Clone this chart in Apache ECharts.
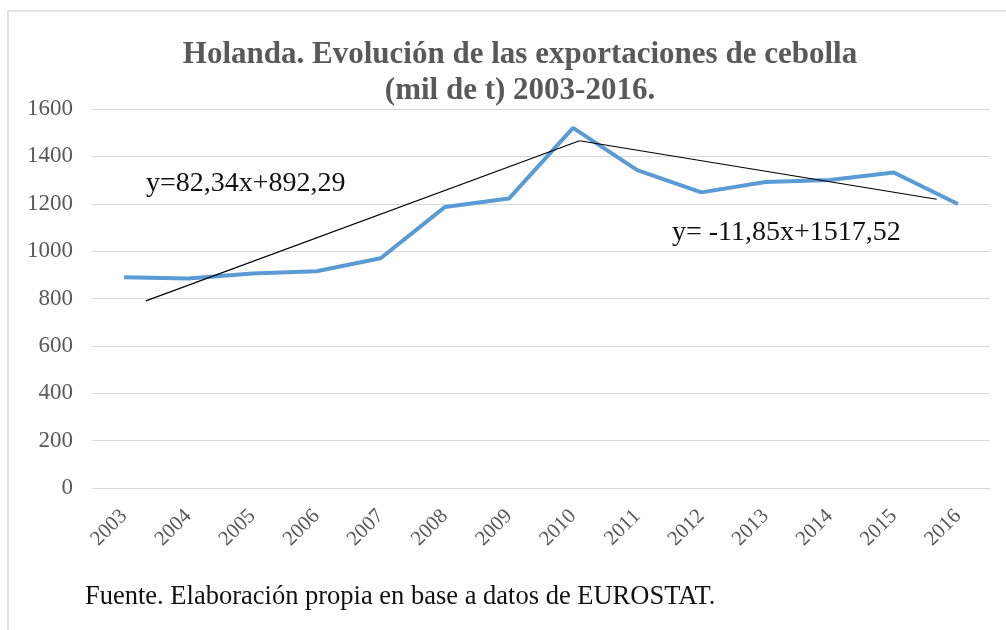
<!DOCTYPE html>
<html>
<head>
<meta charset="utf-8">
<script src="https://cdn.jsdelivr.net/npm/echarts@6/dist/echarts.min.js"></script>
<style>
  html, body { margin: 0; padding: 0; background: #fff; }
  #char1 { width: 1006px; height: 630px; }
</style>
</head>
<body>
<div id="char1"></div>
<script>
  // datos
  var years = ['2003','2004','2005','2006','2007','2008','2009','2010','2011','2012','2013','2014','2015','2016'];
  var exports = [890, 884, 906, 915, 970, 1186, 1222, 1520, 1342, 1248, 1292, 1300, 1332, 1199];
  var yTicks = [0, 200, 400, 600, 800, 1000, 1200, 1400, 1600];
  // tendencias (x = indice de categoria)
  var trendUp = [[0.34, 790], [7.1, 1466]];
  var trendDown = [[7.1, 1466], [12.67, 1219]];
  var eqUp = 'y=82,34x+892,29';
  var eqDown = 'y= -11,85x+1517,52';
  var fuente = 'Fuente. Elaboración propia en base a datos de EUROSTAT.';

  var serif = '"Liberation Serif", "DejaVu Serif", serif';
  var dom = document.getElementById("char1");
  var myChart = echarts.init(dom);

  var option = {
    backgroundColor: '#fff',
    animation: false,
    title: {
      text: 'Holanda. Evolución de las exportaciones de cebolla\n(mil de t) 2003-2016.',
      left: 515,
      textAlign: 'center',
      top: 32,
      textStyle: {
        fontFamily: serif,
        fontWeight: 'bold',
        fontSize: 31,
        lineHeight: 36,
        color: '#595959'
      }
    },
    grid: {
      left: 92,
      right: 16,
      top: 109,
      bottom: 142,
      containLabel: false
    },
    xAxis: [{
      type: 'category',
      data: years,
      boundaryGap: true,
      axisLine: { show: true, lineStyle: { color: '#d9d9d9', width: 1 } },
      axisTick: { show: false },
      axisLabel: {
        rotate: 45,
        margin: 25,
        interval: 0,
        fontFamily: serif,
        fontSize: 21,
        color: '#595959'
      }
    }, {
      type: 'value',
      min: -0.5,
      max: 13.5,
      show: false
    }],
    yAxis: {
      type: 'value',
      min: 0,
      max: 1600,
      interval: 200,
      axisLine: { show: false },
      axisTick: { show: false },
      splitLine: { lineStyle: { color: '#d9d9d9', width: 1 } },
      axisLabel: {
        margin: 19,
        fontFamily: serif,
        fontSize: 23,
        color: '#595959',
        formatter: function(v) {
          return yTicks.indexOf(v) >= 0 ? String(v) : '';
        }
      }
    },
    series: [
      {
        name: 'Exportaciones',
        type: 'line',
        data: exports,
        symbol: 'none',
        lineStyle: { color: '#5B9BD5', width: 4 },
        z: 3
      },
      {
        name: 'Tendencia 1',
        type: 'line',
        xAxisIndex: 1,
        data: trendUp,
        symbol: 'none',
        lineStyle: { color: '#000', width: 1.2 },
        z: 4
      },
      {
        name: 'Tendencia 2',
        type: 'line',
        xAxisIndex: 1,
        data: trendDown,
        symbol: 'none',
        lineStyle: { color: '#000', width: 1.2 },
        z: 4
      }
    ],
    graphic: [
      {
        type: 'rect',
        shape: { x: 8, y: 11, width: 1010, height: 640 },
        style: { fill: 'none', stroke: '#d9d9d9', lineWidth: 1.5 },
        silent: true
      },
      {
        type: 'text',
        left: 146,
        top: 170,
        style: { text: eqUp, font: '28px ' + serif, fill: '#111' }
      },
      {
        type: 'text',
        left: 672,
        top: 219,
        style: { text: eqDown, font: '28px ' + serif, fill: '#111' }
      },
      {
        type: 'text',
        left: 85,
        top: 584,
        style: { text: fuente, font: '26.5px ' + serif, fill: '#111' }
      }
    ]
  };

  if (option && typeof option === "object") {
    myChart.setOption(option, true);
  }
</script>
</body>
</html>
